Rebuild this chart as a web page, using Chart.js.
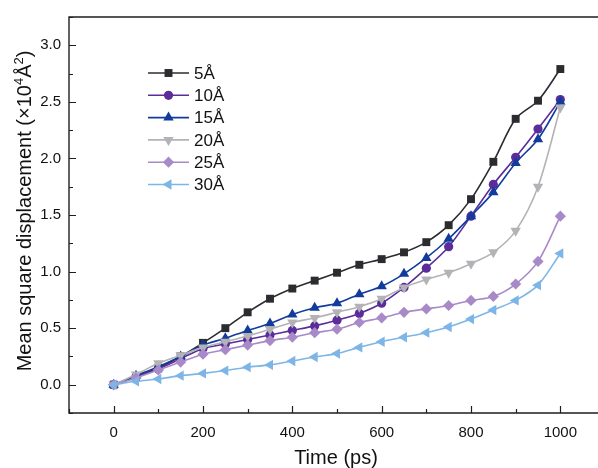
<!DOCTYPE html>
<html>
<head>
<meta charset="utf-8">
<script src="https://cdn.jsdelivr.net/npm/chart.js@4.4.1/dist/chart.umd.min.js"></script>
<style>
  html, body { margin: 0; padding: 0; background: #fff; overflow: hidden; }
  #wrap { width: 598px; height: 468px; overflow: hidden; }
</style>
</head>
<body>
<div id="wrap"><canvas id="msd" width="615" height="468"></canvas></div>
<script>
// time axis (ps)
const times = [0, 50, 100, 150, 200, 250, 300, 350, 400, 450, 500, 550, 600, 650, 700, 750, 800, 850, 900, 950, 1000];

// MSD, units of 10^4 Å^2
const msd5 = [0, 0.07, 0.15, 0.25, 0.37, 0.50, 0.64, 0.76, 0.85, 0.92, 0.99, 1.06, 1.11, 1.17, 1.26, 1.41, 1.64, 1.97, 2.35, 2.51, 2.79];
const msd10 = [0, 0.07, 0.14, 0.23, 0.32, 0.36, 0.40, 0.44, 0.48, 0.52, 0.57, 0.63, 0.72, 0.86, 1.03, 1.22, 1.49, 1.77, 2.01, 2.26, 2.52];
const msd15 = [0, 0.08, 0.16, 0.25, 0.35, 0.41, 0.48, 0.54, 0.62, 0.68, 0.72, 0.80, 0.87, 0.98, 1.12, 1.29, 1.49, 1.70, 1.96, 2.17, 2.50];
const msd20 = [0, 0.09, 0.19, 0.26, 0.33, 0.38, 0.43, 0.49, 0.55, 0.59, 0.64, 0.69, 0.76, 0.86, 0.93, 0.99, 1.07, 1.17, 1.36, 1.75, 2.45];
const msd25 = [0, 0.06, 0.13, 0.20, 0.27, 0.31, 0.35, 0.39, 0.42, 0.46, 0.49, 0.55, 0.59, 0.64, 0.67, 0.70, 0.745, 0.78, 0.89, 1.09, 1.49];
const msd30 = [0, 0.03, 0.05, 0.08, 0.10, 0.125, 0.155, 0.175, 0.21, 0.245, 0.275, 0.33, 0.38, 0.42, 0.46, 0.51, 0.58, 0.66, 0.745, 0.88, 1.16];

const seriesLabels = ['5Å', '10Å', '15Å', '20Å', '25Å', '30Å'];

const xTicks = [0, 200, 400, 600, 800, 1000];
const xMinorTicks = [-100, 100, 300, 500, 700, 900, 1100];
const yTicks = [0.0, 0.5, 1.0, 1.5, 2.0, 2.5, 3.0];
const yMinorTicks = [-0.25, 0.25, 0.75, 1.25, 1.75, 2.25, 2.75, 3.25];

const FONT = '"Liberation Sans", Arial, sans-serif';
const AXIS = '#1e1e1e';

function series(label, values, color, style, rotation, radius, order) {
  return {
    label: label,
    data: times.map((t, i) => ({ x: t, y: values[i] })),
    borderColor: color,
    backgroundColor: color,
    borderWidth: 1.6,
    pointStyle: style,
    pointRotation: rotation,
    pointRadius: radius,
    pointBorderWidth: 0,
    pointHoverRadius: radius,
    tension: 0.3,
    order: order
  };
}

// frame, inward ticks, axis titles and legend
const framePlugin = {
  id: 'frame',
  afterDraw(chart) {
    const ctx = chart.ctx;
    const a = chart.chartArea;
    const xs = chart.scales.x;
    const ys = chart.scales.y;
    ctx.save();
    ctx.strokeStyle = AXIS;
    ctx.lineWidth = 1.4;
    ctx.beginPath();
    ctx.moveTo(a.left, a.top);
    ctx.lineTo(a.right, a.top);
    ctx.lineTo(a.right, a.bottom);
    ctx.lineTo(a.left, a.bottom);
    ctx.closePath();
    ctx.stroke();

    ctx.lineWidth = 1.2;
    ctx.beginPath();
    xTicks.forEach(v => {
      const px = Math.round(xs.getPixelForValue(v)) + 0.5;
      ctx.moveTo(px, a.bottom); ctx.lineTo(px, a.bottom - 7);
    });
    xMinorTicks.forEach(v => {
      const px = Math.round(xs.getPixelForValue(v)) + 0.5;
      ctx.moveTo(px, a.bottom); ctx.lineTo(px, a.bottom - 4);
    });
    yTicks.forEach(v => {
      const py = Math.round(ys.getPixelForValue(v)) + 0.5;
      ctx.moveTo(a.left, py); ctx.lineTo(a.left + 7, py);
    });
    yMinorTicks.forEach(v => {
      const py = Math.round(ys.getPixelForValue(v)) + 0.5;
      ctx.moveTo(a.left, py); ctx.lineTo(a.left + 4, py);
    });
    ctx.stroke();

    // x title
    ctx.fillStyle = '#111';
    ctx.font = '20px ' + FONT;
    ctx.textAlign = 'center';
    ctx.textBaseline = 'middle';
    ctx.fillText('Time (ps)', 336, 458);

    // y title with superscripts
    const parts = [
      ['Mean square displacement (\u00d710', false],
      ['4', true],
      ['Å', false],
      ['2', true],
      [')', false]
    ];
    const big = '20px ' + FONT;
    const small = '13px ' + FONT;
    let total = 0;
    parts.forEach(p => { ctx.font = p[1] ? small : big; total += ctx.measureText(p[0]).width; });
    ctx.translate(24, 211);
    ctx.rotate(-Math.PI / 2);
    ctx.textAlign = 'left';
    ctx.textBaseline = 'alphabetic';
    let cx = -total / 2;
    parts.forEach(p => {
      ctx.font = p[1] ? small : big;
      ctx.fillText(p[0], cx, p[1] ? -1 : 7);
      cx += ctx.measureText(p[0]).width;
    });
    ctx.setTransform(1, 0, 0, 1, 0, 0);

    // legend
    chart.data.datasets.forEach((ds, i) => {
      const y = 73 + i * 22.3;
      ctx.strokeStyle = ds.borderColor;
      ctx.lineWidth = 1.6;
      ctx.beginPath();
      ctx.moveTo(148, y);
      ctx.lineTo(189, y);
      ctx.stroke();
      ctx.fillStyle = ds.backgroundColor;
      Chart.helpers.drawPoint(ctx, {
        pointStyle: ds.pointStyle,
        rotation: ds.pointRotation,
        radius: ds.pointRadius,
        borderWidth: 0
      }, 168.5, y);
      ctx.fillStyle = '#111';
      ctx.font = '17px ' + FONT;
      ctx.textAlign = 'left';
      ctx.textBaseline = 'middle';
      ctx.fillText(ds.label, 194, y + 1);
    });
    ctx.restore();
  }
};

new Chart(document.getElementById('msd'), {
  type: 'line',
  data: {
    datasets: [
      series(seriesLabels[0], msd5, '#2c2c30', 'rect', 0, 5.6, 5),
      series(seriesLabels[1], msd10, '#5a2d9a', 'circle', 0, 4.6, 4),
      series(seriesLabels[2], msd15, '#123c9c', 'triangle', 0, 6, 3),
      series(seriesLabels[3], msd20, '#b3b3b7', 'triangle', 180, 6, 2),
      series(seriesLabels[4], msd25, '#a98ac8', 'rectRot', 0, 5.6, 1),
      series(seriesLabels[5], msd30, '#7db6e6', 'triangle', -90, 6, 0)
    ]
  },
  options: {
    responsive: false,
    devicePixelRatio: 1,
    animation: false,
    parsing: false,
    layout: { padding: { top: 11, right: 10, left: 0, bottom: 0 } },
    plugins: {
      legend: { display: false },
      tooltip: { enabled: false }
    },
    scales: {
      x: {
        type: 'linear',
        min: -100,
        max: 1100,
        grid: { display: false, drawTicks: false },
        border: { display: false },
        afterBuildTicks: s => { s.ticks = xTicks.map(v => ({ value: v })); },
        afterFit: s => { s.height = 55; },
        ticks: {
          padding: 11,
          color: '#111',
          maxRotation: 0,
          font: { family: FONT, size: 15 },
          callback: v => String(v)
        }
      },
      y: {
        type: 'linear',
        min: -0.25,
        max: 3.25,
        grid: { display: false, drawTicks: false },
        border: { display: false },
        afterBuildTicks: s => { s.ticks = yTicks.map(v => ({ value: v })); },
        afterFit: s => { s.width = 69; },
        ticks: {
          padding: 8,
          color: '#111',
          font: { family: FONT, size: 15 },
          callback: v => v.toFixed(1)
        }
      }
    }
  },
  plugins: [framePlugin]
});
</script>
</body>
</html>
